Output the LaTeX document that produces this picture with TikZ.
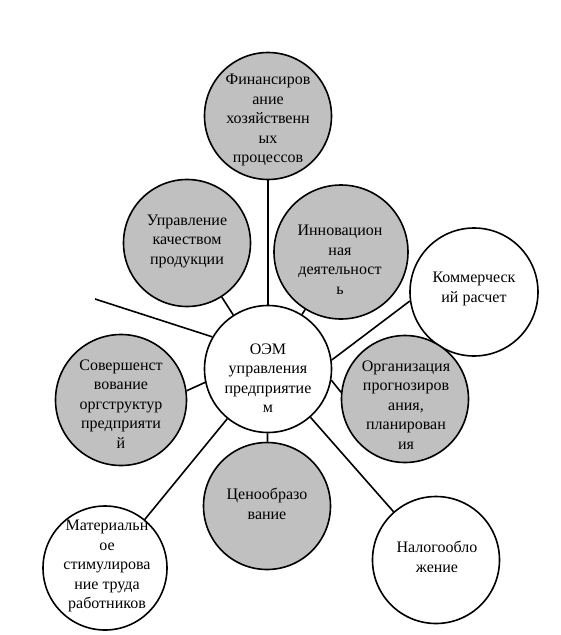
\documentclass[tikz,border=0pt]{standalone}
\usepackage{fontspec}
\setmainfont{Liberation Serif}
\begin{document}
\begin{tikzpicture}[x=1pt,y=-1pt,
  bub/.style={circle,draw=black,line width=1.6pt,inner sep=0pt,minimum size=#1},
  gbub/.style={bub=#1,fill={rgb,255:red,192;green,192;blue,192}},
  wbub/.style={bub=#1,fill=white},
  txt/.style={align=center,inner sep=0pt,font=\fontsize{16}{19.5}\selectfont},
  conn/.style={line width=1.6pt,draw=black}]
\useasboundingbox (0,0) rectangle (560,635);
\node[gbub=127pt] (fin) at (268,116) {};
\node[gbub=127pt] (upr) at (187,243) {};
\node[gbub=134pt] (inn) at (341,252) {};
\node[wbub=128pt] (kom) at (474,292) {};
\node[wbub=127pt] (oem) at (268,369) {};
\node[gbub=131pt] (sov) at (121,400) {};
\node[gbub=127pt] (org) at (405,399) {};
\node[gbub=127pt] (cen) at (267,506) {};
\node[wbub=124pt] (mat) at (105,568) {};
\node[wbub=127pt] (nal) at (436,560) {};
\coordinate (free) at (95,299);
\draw[conn] (fin) -- (oem);
\draw[conn] (upr) -- (oem);
\draw[conn] (inn) -- (oem);
\draw[conn] (oem.8) -- (kom.188);
\draw[conn] (oem.-10) -- (org.174);
\draw[conn] (oem) -- (nal);
\draw[conn] (oem) -- (cen);
\draw[conn] (oem) -- (mat);
\draw[conn] (oem.192) -- (sov.8);
\draw[conn] (oem.150) -- (free);
\node[txt] (fint) at (268,120) {Финансиров\\ание\\хозяйственн\\ых\\процессов};
\node[txt] (uprt) at (187,241) {Управление\\качеством\\продукции};
\node[txt] (innt) at (340,260) {Инновацион\\ная\\деятельност\\ь};
\node[txt] (komt) at (474,289) {Коммерческ\\ий расчет};
\node[txt] (oemt) at (268,378) {ОЭМ\\управления\\предприятие\\м};
\node[txt] (sovt) at (121,404) {Совершенст\\вование\\оргструктур\\предприяти\\й};
\node[txt] (orgt) at (406,405) {Организация\\прогнозиров\\ания,\\планирован\\ия};
\node[txt] (cent) at (267,504) {Ценообразо\\вание};
\node[txt] (matt) at (107,566) {Материальн\\ое\\стимулирова\\ние труда\\работников};
\node[txt] (nalt) at (437,557) {Налогообло\\жение};
\end{tikzpicture}
\end{document}
